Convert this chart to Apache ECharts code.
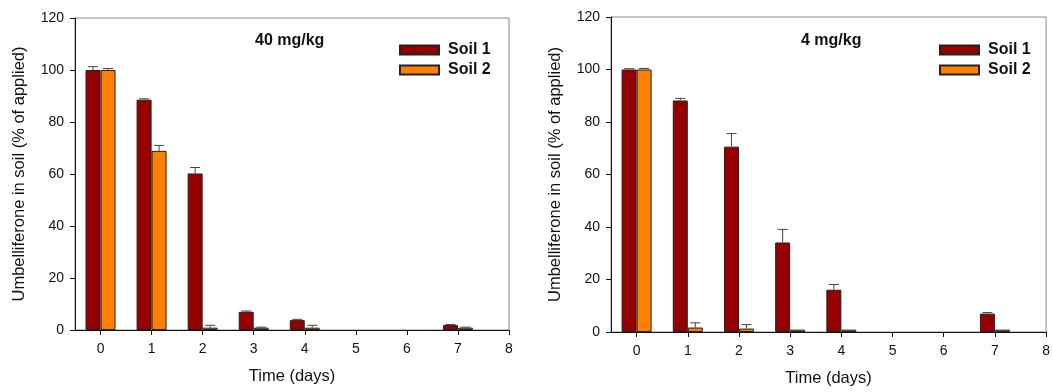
<!DOCTYPE html>
<html>
<head>
<meta charset="utf-8">
<script src="https://cdn.jsdelivr.net/npm/echarts@6/dist/echarts.min.js"></script>
<style>
  html, body { margin: 0; padding: 0; background: #fff; }
  #chart { width: 1053px; height: 392px; }
</style>
</head>
<body>
<div id="chart"></div>
<script>
// days that were sampled (5 and 6 have no data)
const days = [0, 1, 2, 3, 4, 7];
const xTicks = [0, 1, 2, 3, 4, 5, 6, 7, 8];

// 40 mg/kg panel
const soil1_40 = [100, 88.6, 60.2, 7.0, 3.8, 1.9];
const soil1_40_err = [1.3, 0.3, 2.3, 0.3, 0.3, 0.2];
const soil2_40 = [100, 68.9, 0.9, 0.9, 0.9, 0.9];
const soil2_40_err = [0.6, 2.1, 0.9, 0.2, 0.9, 0.2];

// 4 mg/kg panel
const soil1_4 = [100, 88.2, 70.6, 34.1, 16.1, 7.0];
const soil1_4_err = [0.3, 0.8, 5.0, 5.0, 2.0, 0.4];
const soil2_4 = [100, 1.7, 1.3, 0.9, 0.9, 0.9];
const soil2_4_err = [0.4, 1.8, 1.5, 0, 0, 0];

const BAR_W = 15;
const COL1 = '#960000';
const COL2 = '#ff8000';
const FONT = '"Liberation Sans", Arial, sans-serif';

function pairs(vals) {
  return days.map((d, i) => [d, vals[i]]);
}
function errData(vals, errs) {
  return days.map((d, i) => [d, vals[i], errs[i]]);
}

// upper error bar only, like the original plot
function errorBar(shift) {
  return function (params, api) {
    const e = api.value(2);
    if (!e) return null;
    const base = api.coord([api.value(0), api.value(1)]);
    const top = api.coord([api.value(0), api.value(1) + e]);
    const x = base[0] + shift;
    const style = { stroke: '#444', lineWidth: 1 };
    return {
      type: 'group',
      children: [
        { type: 'line', shape: { x1: x, y1: base[1], x2: x, y2: top[1] }, style },
        { type: 'line', shape: { x1: x - 5, y1: top[1], x2: x + 5, y2: top[1] }, style }
      ]
    };
  };
}

function makeX(idx) {
  return {
    type: 'value', gridIndex: idx, min: -0.5, max: 8,
    name: 'Time (days)', nameLocation: 'middle', nameGap: 38,
    nameTextStyle: { fontSize: 16.5, color: '#111', fontFamily: FONT },
    axisLine: { show: true, onZero: false, lineStyle: { color: '#111', width: 1 } },
    axisTick: { show: true, length: 5, customValues: xTicks, lineStyle: { color: '#111' } },
    axisLabel: { customValues: xTicks, fontSize: 14, color: '#111', fontFamily: FONT, margin: 12 },
    splitLine: { show: false }
  };
}
function makeY(idx) {
  return {
    type: 'value', gridIndex: idx, min: 0, max: 120, interval: 20,
    name: 'Umbelliferone in soil (% of applied)', nameLocation: 'middle', nameGap: 47,
    nameTextStyle: { fontSize: 16.5, color: '#111', fontFamily: FONT },
    axisLine: { show: true, onZero: false, lineStyle: { color: '#111', width: 1 } },
    axisTick: { show: true, length: 5, lineStyle: { color: '#111' } },
    axisLabel: { fontSize: 14, color: '#111', fontFamily: FONT, margin: 11 },
    splitLine: { show: false }
  };
}
function barSeries(name, color, vals, idx) {
  return {
    type: 'bar', name, xAxisIndex: idx, yAxisIndex: idx,
    barWidth: BAR_W, barGap: '0%',
    itemStyle: { color, borderColor: '#222', borderWidth: 1 },
    data: pairs(vals)
  };
}
function errSeries(vals, errs, shift, idx) {
  return {
    type: 'custom', xAxisIndex: idx, yAxisIndex: idx, z: 3,
    renderItem: errorBar(shift),
    data: errData(vals, errs)
  };
}
function legend(left) {
  return {
    data: ['Soil 1', 'Soil 2'], orient: 'vertical', left, top: 37,
    icon: 'rect', itemWidth: 39, itemHeight: 9, itemGap: 4,
    textStyle: { fontSize: 16, fontWeight: 'bold', color: '#111', fontFamily: FONT, padding: [0, 0, 0, 4] },
    selectedMode: false
  };
}

const chart = echarts.init(document.getElementById('chart'), null, { renderer: 'canvas' });
chart.setOption({
  animation: false,
  backgroundColor: '#fff',
  title: [
    { text: '40 mg/kg', left: 250, top: 28, textStyle: { fontSize: 16, fontWeight: 'bold', color: '#111', fontFamily: FONT } },
    { text: '4 mg/kg', left: 796, top: 28, textStyle: { fontSize: 16, fontWeight: 'bold', color: '#111', fontFamily: FONT } }
  ],
  legend: [legend(394), legend(934)],
  grid: [
    { left: 75, top: 18, width: 434, height: 312, show: true, borderColor: '#888', borderWidth: 1 },
    { left: 611, top: 17, width: 439, height: 316, show: true, borderColor: '#888', borderWidth: 1 }
  ],
  xAxis: [makeX(0), makeX(1)],
  yAxis: [makeY(0), makeY(1)],
  series: [
    barSeries('Soil 1', COL1, soil1_40, 0),
    barSeries('Soil 2', COL2, soil2_40, 0),
    errSeries(soil1_40, soil1_40_err, -BAR_W / 2, 0),
    errSeries(soil2_40, soil2_40_err, BAR_W / 2, 0),
    barSeries('Soil 1', COL1, soil1_4, 1),
    barSeries('Soil 2', COL2, soil2_4, 1),
    errSeries(soil1_4, soil1_4_err, -BAR_W / 2, 1),
    errSeries(soil2_4, soil2_4_err, BAR_W / 2, 1)
  ]
});
</script>
</body>
</html>
